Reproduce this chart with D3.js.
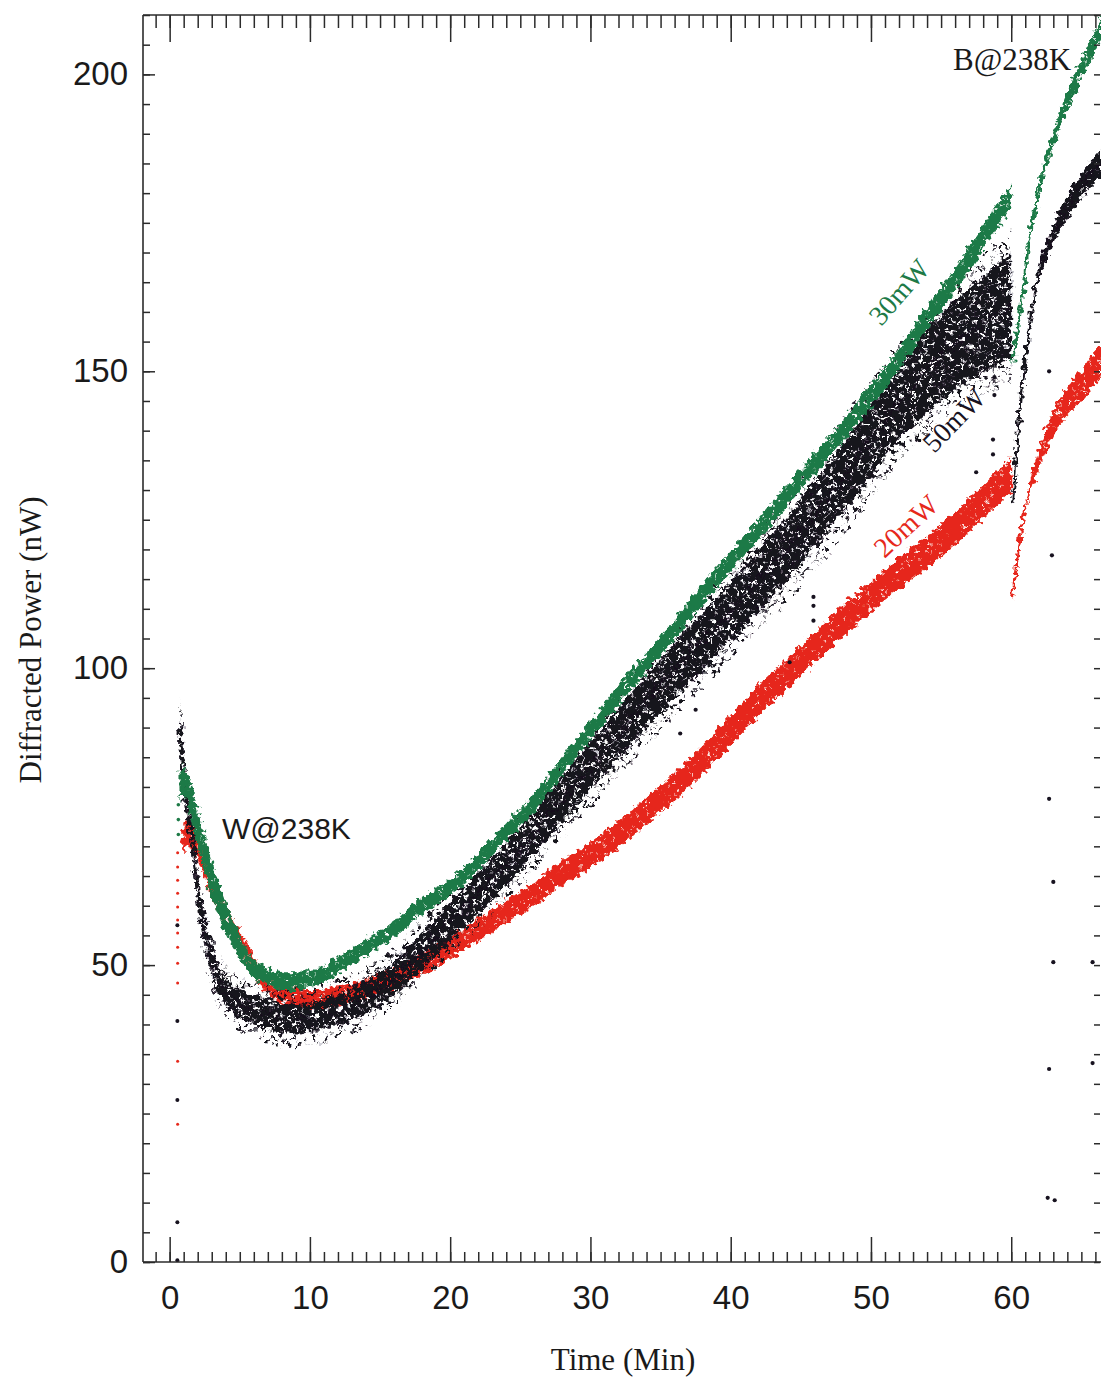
<!DOCTYPE html>
<html>
<head>
<meta charset="utf-8">
<script src="https://cdn.jsdelivr.net/npm/d3@7"></script>
<style>
  body { margin: 0; background: #fff; }
  svg { display: block; }
</style>
</head>
<body>
<svg id="chart" width="1101" height="1378"></svg>
<script>
// ---- 30 mW run (green): after write at 238 K, then after bleach step at 60 min
const greenT = [0.7,1.0,1.5,2,2.5,3,3.5,4,4.5,5, 5.5,6,7,8,9,10,11,12,13,14, 15,16,17,18,19,20, 22,24,26,28,30,32,34,36,38,40, 42,44,46,48,50,52,54,56,58,60];
const greenV = [80,81,77.5,73,68.5,64.5,61,58,55.5,53, 51,49.5,48,47.3,47.3,47.8,48.5,50,51.5,53, 54.5,56,58,60,61.5,63, 67.5,72.5,77.5,83.5,89.5,95.5,101,106.5,112.5,118, 123.5,129,134.5,140,146,152,159,165.5,172.5,179.5];
const greenSpread = [2.5,2.5,3,3.2,3.2,3,2.8,2.5,2.2,2, 1.8,1.6,1.5,1.5,1.5,1.5,1.4,1.4,1.4,1.4, 1.4,1.4,1.4,1.4,1.4,1.4, 1.4,1.4,1.5,1.5,1.5,1.6,1.6,1.6,1.7,1.7, 1.7,1.8,1.8,1.8,1.9,1.9,1.9,2,2,2];
const greenBT = [60.1,60.4,60.7,61.0,61.4,61.8,62.2,62.7,63.2,63.8,64.4,65,65.6,66.4];
const greenBV = [151.7,156.5,161,167,173.7,178.5,183,187,190.6,194.3,197.8,200.8,203.7,208];
const greenBSpread = [0.6,0.6,0.7,0.8,1,1.2,1.3,1.4,1.5,1.6,1.7,1.8,1.8,1.9];
const greenRise = [72, 74.5, 77];

// ---- 50 mW run (black)
const blackT = [0.75,1.0,1.3,1.6,2.0,2.4,2.8,3.3,4,5, 6,7,8,9,10,11,12,13,14,15, 16,17,18,19,20,22,24,26,28,30, 32,34,36,38,40,42,44,46,48,50, 52,54,56,58,60];
const blackV = [90,82,77,72,63,57,52.5,48.5,45.5,43.5, 42.5,41.8,41,41,41.2,41.8,42.5,43.5,44.5,46, 47.8,50,52.5,55,57.5,62,67,72.5,78,83.5, 89,94.5,99.5,104.5,109.5,115,120,126,132,138.5, 145,150,154.5,158,161];
const blackSpread = [4,3,3,3,3,2.8,2.6,2.5,2.5,2.5, 2.5,2.5,2.5,2.5,2.5,2.5,2.5,2.6,2.7,2.8, 2.9,3,3.1,3.2,3.3,3.4,3.5,3.7,3.9,4, 4.2,4.4,4.6,4.8,5,5.2,5.4,5.6,5.8,6, 6.4,7,7.5,8,9];
const blackScatter = [5,4.5,4.5,4.5,4.5,4.5,4.5,4.5,4.5,4.5, 4.5,5,5,5,5,5,5,5,5,5, 5,5,5,5.5,5.5,6,6,6.5,6.5,7, 7,7.5,7.5,8,8,8.5,9,9.5,10,10, 10,10.5,11,12,13];
const blackBT = [60.1,60.3,60.6,61.1,61.8,62.7,63.9,65.1,66.4];
const blackBV = [128,134,143,154,164.8,171.5,177.3,181.6,185];
const blackBSpread = [0.5,0.5,0.6,0.8,1.2,1.5,1.8,2,2.2];
const blackRise = [0.3, 6.7, 27.3, 40.6, 56.7];
const blackStrayT = [62.7,63.0,63.0,62.7,62.6,63.1,65.8,65.8,62.7,62.9,45.9,45.9,45.9,58.7,58.7,57.5,58.8,58.8,44.2,36.4,37.5];
const blackStrayV = [78,64,50.5,32.5,10.8,10.4,50.5,33.5,150,119,108,110.5,112,136,138.5,133,146,149,101,89,93];

// ---- 20 mW run (red)
const redT = [0.9,1.2,1.6,2.1,2.7,3.3,3.8,4.3,4.9,5.5, 6,6.6,7.2,7.8,9,10,11,12,13,14, 15,16,17,18,19,20,22,24,26,28, 30,32,34,36,38,40,42,44,46,48, 50,52,54,56,58,60];
const redV = [70.5,72,71.5,69,65,61.5,59,57,54.5,52, 50,47.8,46.5,45.3,44.6,44.2,44.3,44.8,45.3,46, 46.8,47.8,49,50.2,51.5,53,56,59,62,65.5, 68.5,72,76,80,84.5,89.5,94.5,99,103.5,108, 112,116,119.5,123.5,128,132.5];
const redSpread = [2.2,2.2,2,2,1.8,1.8,1.7,1.7,1.6,1.6, 1.6,1.6,1.6,1.6,1.6,1.6,1.6,1.6,1.6,1.6, 1.7,1.7,1.7,1.8,1.8,1.8,1.9,1.9,2,2.1, 2.2,2.3,2.3,2.4,2.4,2.5,2.5,2.5,2.6,2.6, 2.6,2.7,2.7,2.8,2.8,2.9];
const redBT = [60.1,60.4,60.8,61.4,62,62.7,63.4,64.2,64.9,65.6,66.4];
const redBV = [112,118,124.6,131,135.5,139.5,143,145.5,147.3,149.5,151.5];
const redBSpread = [0.5,0.6,0.8,1.2,1.6,2,2.2,2.4,2.5,2.6,2.7];
const redRise = [23.2,33.8,47,50.3,53,55.4,57.6,59.8,62.1,64.3,66.5,68.9];

// ---- axes
const xMajor = [0,10,20,30,40,50,60];
const xMinor = d3.range(-1, 67, 1);
const yMajor = [0,50,100,150,200];
const yMinor = d3.range(0, 211, 5);

const W = 1101, H = 1378;
const svg = d3.select("#chart");
const x = d3.scaleLinear().domain([-1.9, 66.4]).range([143, 1101]);
const y = d3.scaleLinear().domain([0, 210]).range([1262, 15]);

const GREEN = "#1d7a47", BLACK = "#17121f", RED = "#e6281b";
const SANS = "'Liberation Sans', Arial, sans-serif";
const SERIF = "'Liberation Serif', 'Times New Roman', serif";

const defs = svg.append("defs");
defs.append("clipPath").attr("id", "plot")
  .append("rect").attr("x", 143).attr("y", 15).attr("width", 958).attr("height", 1247);

// noise-driven grain so the bands read as dense clouds of dots
function grain(id, freq, seed, gain, bias, disp) {
  const f = defs.append("filter").attr("id", id)
    .attr("filterUnits", "userSpaceOnUse")
    .attr("x", 0).attr("y", 0).attr("width", W).attr("height", H);
  f.append("feTurbulence").attr("type", "fractalNoise").attr("baseFrequency", freq)
    .attr("numOctaves", 1).attr("seed", seed).attr("result", "n");
  f.append("feColorMatrix").attr("in", "n").attr("type", "matrix")
    .attr("values", `0 0 0 0 0  0 0 0 0 0  0 0 0 0 0  ${gain} 0 0 0 ${bias}`).attr("result", "m");
  f.append("feComposite").attr("in", "SourceGraphic").attr("in2", "m")
    .attr("operator", "in").attr("result", "s");
  f.append("feTurbulence").attr("type", "fractalNoise").attr("baseFrequency", 0.2)
    .attr("numOctaves", 2).attr("seed", seed + 11).attr("result", "n2");
  f.append("feDisplacementMap").attr("in", "s").attr("in2", "n2").attr("scale", disp)
    .attr("xChannelSelector", "R").attr("yChannelSelector", "G");
}
grain("grainSolid", 0.28, 3, 9, -2.2, 10);
grain("grainCore", 0.26, 5, 9, -3.0, 10);
grain("grainHalo", 0.24, 9, 10, -5.6, 10);

const rows = (T, V, S) => T.map((t, i) => ({ t, v: V[i], s: S[i] }));
const band = d3.area()
  .x(d => x(d.t)).y0(d => y(d.v - d.s)).y1(d => y(d.v + d.s))
  .curve(d3.curveMonotoneX);
const mid = d3.line().x(d => x(d.t)).y(d => y(d.v)).curve(d3.curveMonotoneX);

const plot = svg.append("g").attr("clip-path", "url(#plot)");

function drawRun(g, data, color, filter, lineW) {
  const grp = g.append("g").attr("filter", `url(#${filter})`);
  grp.append("path").datum(data).attr("d", band).attr("fill", color);
  grp.append("path").datum(data).attr("d", mid)
    .attr("fill", "none").attr("stroke", color).attr("stroke-width", lineW);
}

// red (20 mW)
drawRun(plot, rows(redT, redV, redSpread), RED, "grainSolid", 3.5);
drawRun(plot, rows(redBT, redBV, redBSpread), RED, "grainSolid", 3);

// black (50 mW): loose halo of stray dots, then dense core
plot.append("g").attr("filter", "url(#grainHalo)")
  .append("path").datum(rows(blackT, blackV, blackScatter)).attr("d", band).attr("fill", BLACK);
drawRun(plot, rows(blackT, blackV, blackSpread), BLACK, "grainCore", 4);
drawRun(plot, rows(blackBT, blackBV, blackBSpread), BLACK, "grainSolid", 3);

// green (30 mW)
drawRun(plot, rows(greenT, greenV, greenSpread), GREEN, "grainSolid", 3.5);
drawRun(plot, rows(greenBT, greenBV, greenBSpread), GREEN, "grainSolid", 3);

// sparse samples while the signal first switches on, and stray points
const dots = (vals, t, color, r) => plot.append("g").selectAll("circle").data(vals).join("circle")
  .attr("cx", x(t)).attr("cy", d => y(d)).attr("r", r).attr("fill", color);
dots(redRise, 0.57, RED, 1.5);
dots(blackRise, 0.55, BLACK, 2);
dots(greenRise, 0.62, GREEN, 1.8);
plot.append("g").selectAll("circle").data(blackStrayT).join("circle")
  .attr("cx", d => x(d)).attr("cy", (d, i) => y(blackStrayV[i])).attr("r", 2.1).attr("fill", BLACK);

// ---- frame and ticks
const axisColor = "#2b2b2b";
function styleAxis(g) {
  g.select(".domain").remove();
  g.selectAll(".tick line").attr("stroke", axisColor).attr("stroke-width", 1.5);
  g.selectAll("text").attr("fill", "#1a1a1a");
}
// bottom
svg.append("g").attr("transform", "translate(0,1262)")
  .call(d3.axisBottom(x).tickValues(xMinor).tickSizeInner(-10).tickSizeOuter(0).tickFormat(""))
  .call(styleAxis);
svg.append("g").attr("transform", "translate(0,1262)")
  .call(d3.axisBottom(x).tickValues(xMajor).tickSizeInner(-25).tickSizeOuter(0).tickFormat(""))
  .call(styleAxis);
svg.append("g").attr("transform", "translate(0,1262)")
  .call(d3.axisBottom(x).tickValues(xMajor).tickSize(0).tickPadding(24).tickFormat(d3.format("d")))
  .call(styleAxis)
  .call(g => g.selectAll("text").attr("font-family", SANS).attr("font-size", 33));
// top
svg.append("g").attr("transform", "translate(0,15)")
  .call(d3.axisTop(x).tickValues(xMinor).tickSizeInner(-13).tickSizeOuter(0).tickFormat(""))
  .call(styleAxis);
svg.append("g").attr("transform", "translate(0,15)")
  .call(d3.axisTop(x).tickValues(xMajor).tickSizeInner(-27).tickSizeOuter(0).tickFormat(""))
  .call(styleAxis);
// left
svg.append("g").attr("transform", "translate(143,0)")
  .call(d3.axisLeft(y).tickValues(yMinor).tickSizeInner(-7).tickSizeOuter(0).tickFormat(""))
  .call(styleAxis);
svg.append("g").attr("transform", "translate(143,0)")
  .call(d3.axisLeft(y).tickValues(yMajor).tickSizeInner(-12).tickSizeOuter(0).tickFormat(""))
  .call(styleAxis);
svg.append("g").attr("transform", "translate(143,0)")
  .call(d3.axisLeft(y).tickValues(yMajor).tickSize(0).tickPadding(15).tickFormat(d3.format("d")))
  .call(styleAxis)
  .call(g => g.selectAll("text").attr("font-family", SANS).attr("font-size", 33));
// right
svg.append("g").attr("transform", "translate(1100,0)")
  .call(d3.axisRight(y).tickValues(yMinor).tickSizeInner(-6).tickSizeOuter(0).tickFormat(""))
  .call(styleAxis);

// frame lines
const frame = svg.append("g").attr("stroke", axisColor).attr("stroke-width", 1.6).attr("fill", "none");
frame.append("line").attr("x1", 143).attr("x2", 143).attr("y1", 15).attr("y2", 1262);
frame.append("line").attr("x1", 143).attr("x2", W).attr("y1", 15).attr("y2", 15);
frame.append("line").attr("x1", 143).attr("x2", W).attr("y1", 1262).attr("y2", 1262);

// ---- annotations
svg.append("text").attr("x", 222).attr("y", 839).attr("font-family", SANS).attr("font-size", 30)
  .attr("fill", "#1a1a1a").text("W@238K");
svg.append("text").attr("x", 953).attr("y", 70).attr("font-family", SERIF).attr("font-size", 31)
  .attr("fill", "#1a1a1a").text("B@238K");

const runLabel = (txt, cx, cy, ang, color) => svg.append("text")
  .attr("transform", `translate(${cx},${cy}) rotate(${ang})`)
  .attr("text-anchor", "middle").attr("dominant-baseline", "central")
  .attr("font-family", SERIF).attr("font-size", 28).attr("fill", color).text(txt);
runLabel("30mW", 899, 292, -49, GREEN);
runLabel("50mW", 954, 420, -46, BLACK);
runLabel("20mW", 906, 526, -43, RED);

// axis titles
svg.append("text").attr("x", 623).attr("y", 1370).attr("text-anchor", "middle")
  .attr("font-family", SERIF).attr("font-size", 31).attr("fill", "#1a1a1a").text("Time (Min)");
svg.append("text").attr("transform", "translate(30,640) rotate(-90)")
  .attr("text-anchor", "middle").attr("dominant-baseline", "central")
  .attr("font-family", SERIF).attr("font-size", 31).attr("fill", "#1a1a1a").text("Diffracted Power (nW)");
</script>
</body>
</html>
